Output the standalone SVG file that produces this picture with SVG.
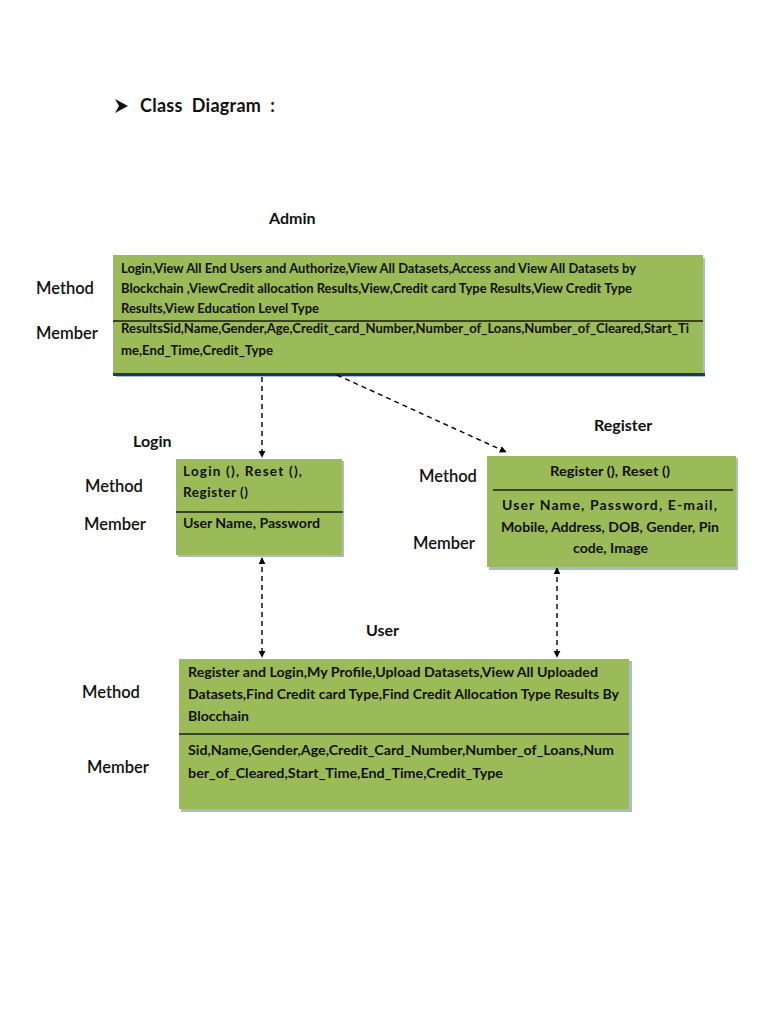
<svg xmlns="http://www.w3.org/2000/svg" width="768" height="1024" viewBox="0 0 768 1024">
<style>
text{font-family:Lato,"Liberation Sans",sans-serif;fill:#111}
.title{font-size:18px;font-weight:bold;white-space:pre}
.lbl{font-size:16px;font-weight:bold}
.side{font-size:16.5px;font-weight:600}
.bt{font-size:12.5px;font-weight:bold}
.bm{font-size:13.5px;font-weight:bold}
.bl{font-size:14px;font-weight:bold}
.box{fill:#9BBB59}
.shadow{fill:#A9BCCB}
.div{stroke:#1a1a1a;stroke-width:1.3}
.conn{stroke:#000;stroke-width:1.4;stroke-dasharray:5,4;fill:none}
</style>
<defs>
<marker id="ah" viewBox="0 0 10 10" refX="9" refY="5" markerWidth="7" markerHeight="7" orient="auto-start-reverse" markerUnits="userSpaceOnUse">
<path d="M0,0 L10,5 L0,10 z" fill="#000"/>
</marker>
</defs>
<rect width="768" height="1024" fill="#fff"/>

<g id="title">
<path d="M115,99 L128,106 L115,113 L119,106 z" fill="#111"/>
<text class="title" x="140" y="112" textLength="135" lengthAdjust="spacing">Class  Diagram  :</text>
</g>

<g id="admin">
<text class="lbl" x="269" y="224">Admin</text>
<rect class="shadow" x="116" y="258" width="589" height="119"/>
<rect class="box" x="113" y="255" width="590" height="119"/>
<rect x="113" y="373" width="592" height="3" fill="#1F3A5F"/>
<line class="div" x1="113" y1="321" x2="703" y2="321"/>
<text class="bt" x="121" y="273" textLength="515" lengthAdjust="spacingAndGlyphs">Login,View All End Users and Authorize,View All Datasets,Access and View All Datasets by</text>
<text class="bt" x="121" y="293" textLength="511" lengthAdjust="spacingAndGlyphs">Blockchain ,ViewCredit allocation Results,View,Credit card Type Results,View Credit Type</text>
<text class="bt" x="121" y="313" textLength="198" lengthAdjust="spacingAndGlyphs">Results,View Education Level Type</text>
<text class="bt" x="121" y="333" textLength="568" lengthAdjust="spacingAndGlyphs">ResultsSid,Name,Gender,Age,Credit_card_Number,Number_of_Loans,Number_of_Cleared,Start_Ti</text>
<text class="bt" x="121" y="355" textLength="152" lengthAdjust="spacingAndGlyphs">me,End_Time,Credit_Type</text>
<text class="side" x="36" y="294">Method</text>
<text class="side" x="36" y="339">Member</text>
</g>

<g id="login">
<text class="lbl" x="133" y="447">Login</text>
<rect class="shadow" x="178" y="461" width="166" height="96"/>
<rect class="box" x="176" y="459" width="166" height="96"/>
<line class="div" x1="176" y1="512" x2="343" y2="512"/>
<text class="bm" x="183" y="476" textLength="119" lengthAdjust="spacing">Login (), Reset (),</text>
<text class="bm" x="183" y="497" textLength="65" lengthAdjust="spacing">Register ()</text>
<text class="bm" x="183" y="528" textLength="137" lengthAdjust="spacingAndGlyphs">User Name, Password</text>
<text class="side" x="85" y="492">Method</text>
<text class="side" x="84" y="530">Member</text>
</g>

<g id="register">
<text class="lbl" x="594" y="431">Register</text>
<rect class="shadow" x="489" y="458" width="249" height="112"/>
<rect class="box" x="487" y="456" width="249" height="111"/>
<line class="div" x1="493" y1="490" x2="733" y2="490"/>
<text class="bm" x="550" y="476" textLength="120" lengthAdjust="spacingAndGlyphs">Register (), Reset ()</text>
<text class="bl" x="502" y="510" textLength="215" lengthAdjust="spacing">User Name, Password, E-mail,</text>
<text class="bl" x="501" y="532" textLength="218" lengthAdjust="spacingAndGlyphs">Mobile, Address, DOB, Gender, Pin</text>
<text class="bl" x="573" y="553" textLength="75" lengthAdjust="spacingAndGlyphs">code, Image</text>
<text class="side" x="419" y="482">Method</text>
<text class="side" x="413" y="549">Member</text>
</g>

<g id="user">
<text class="lbl" x="366" y="636">User</text>
<rect class="shadow" x="181" y="661" width="451" height="151"/>
<rect class="box" x="179" y="659" width="450" height="150"/>
<line class="div" x1="179" y1="734" x2="629" y2="734"/>
<text class="bm" x="188" y="677" textLength="410" lengthAdjust="spacingAndGlyphs">Register and Login,My Profile,Upload Datasets,View All Uploaded</text>
<text class="bm" x="188" y="699" textLength="431" lengthAdjust="spacingAndGlyphs">Datasets,Find Credit card Type,Find Credit Allocation Type Results By</text>
<text class="bm" x="188" y="721" textLength="61" lengthAdjust="spacingAndGlyphs">Blocchain</text>
<text class="bm" x="188" y="755" textLength="426" lengthAdjust="spacingAndGlyphs">Sid,Name,Gender,Age,Credit_Card_Number,Number_of_Loans,Num</text>
<text class="bm" x="188" y="778" textLength="315" lengthAdjust="spacingAndGlyphs">ber_of_Cleared,Start_Time,End_Time,Credit_Type</text>
<text class="side" x="82" y="698">Method</text>
<text class="side" x="87" y="773">Member</text>
</g>

<g id="connectors">
<line class="conn" x1="262" y1="377" x2="262" y2="457" marker-end="url(#ah)"/>
<line class="conn" x1="337" y1="375" x2="506" y2="452" marker-end="url(#ah)"/>
<line class="conn" x1="262" y1="558" x2="262" y2="657" marker-start="url(#ah)" marker-end="url(#ah)"/>
<line class="conn" x1="557" y1="568" x2="557" y2="657" marker-start="url(#ah)" marker-end="url(#ah)"/>
</g>
</svg>
